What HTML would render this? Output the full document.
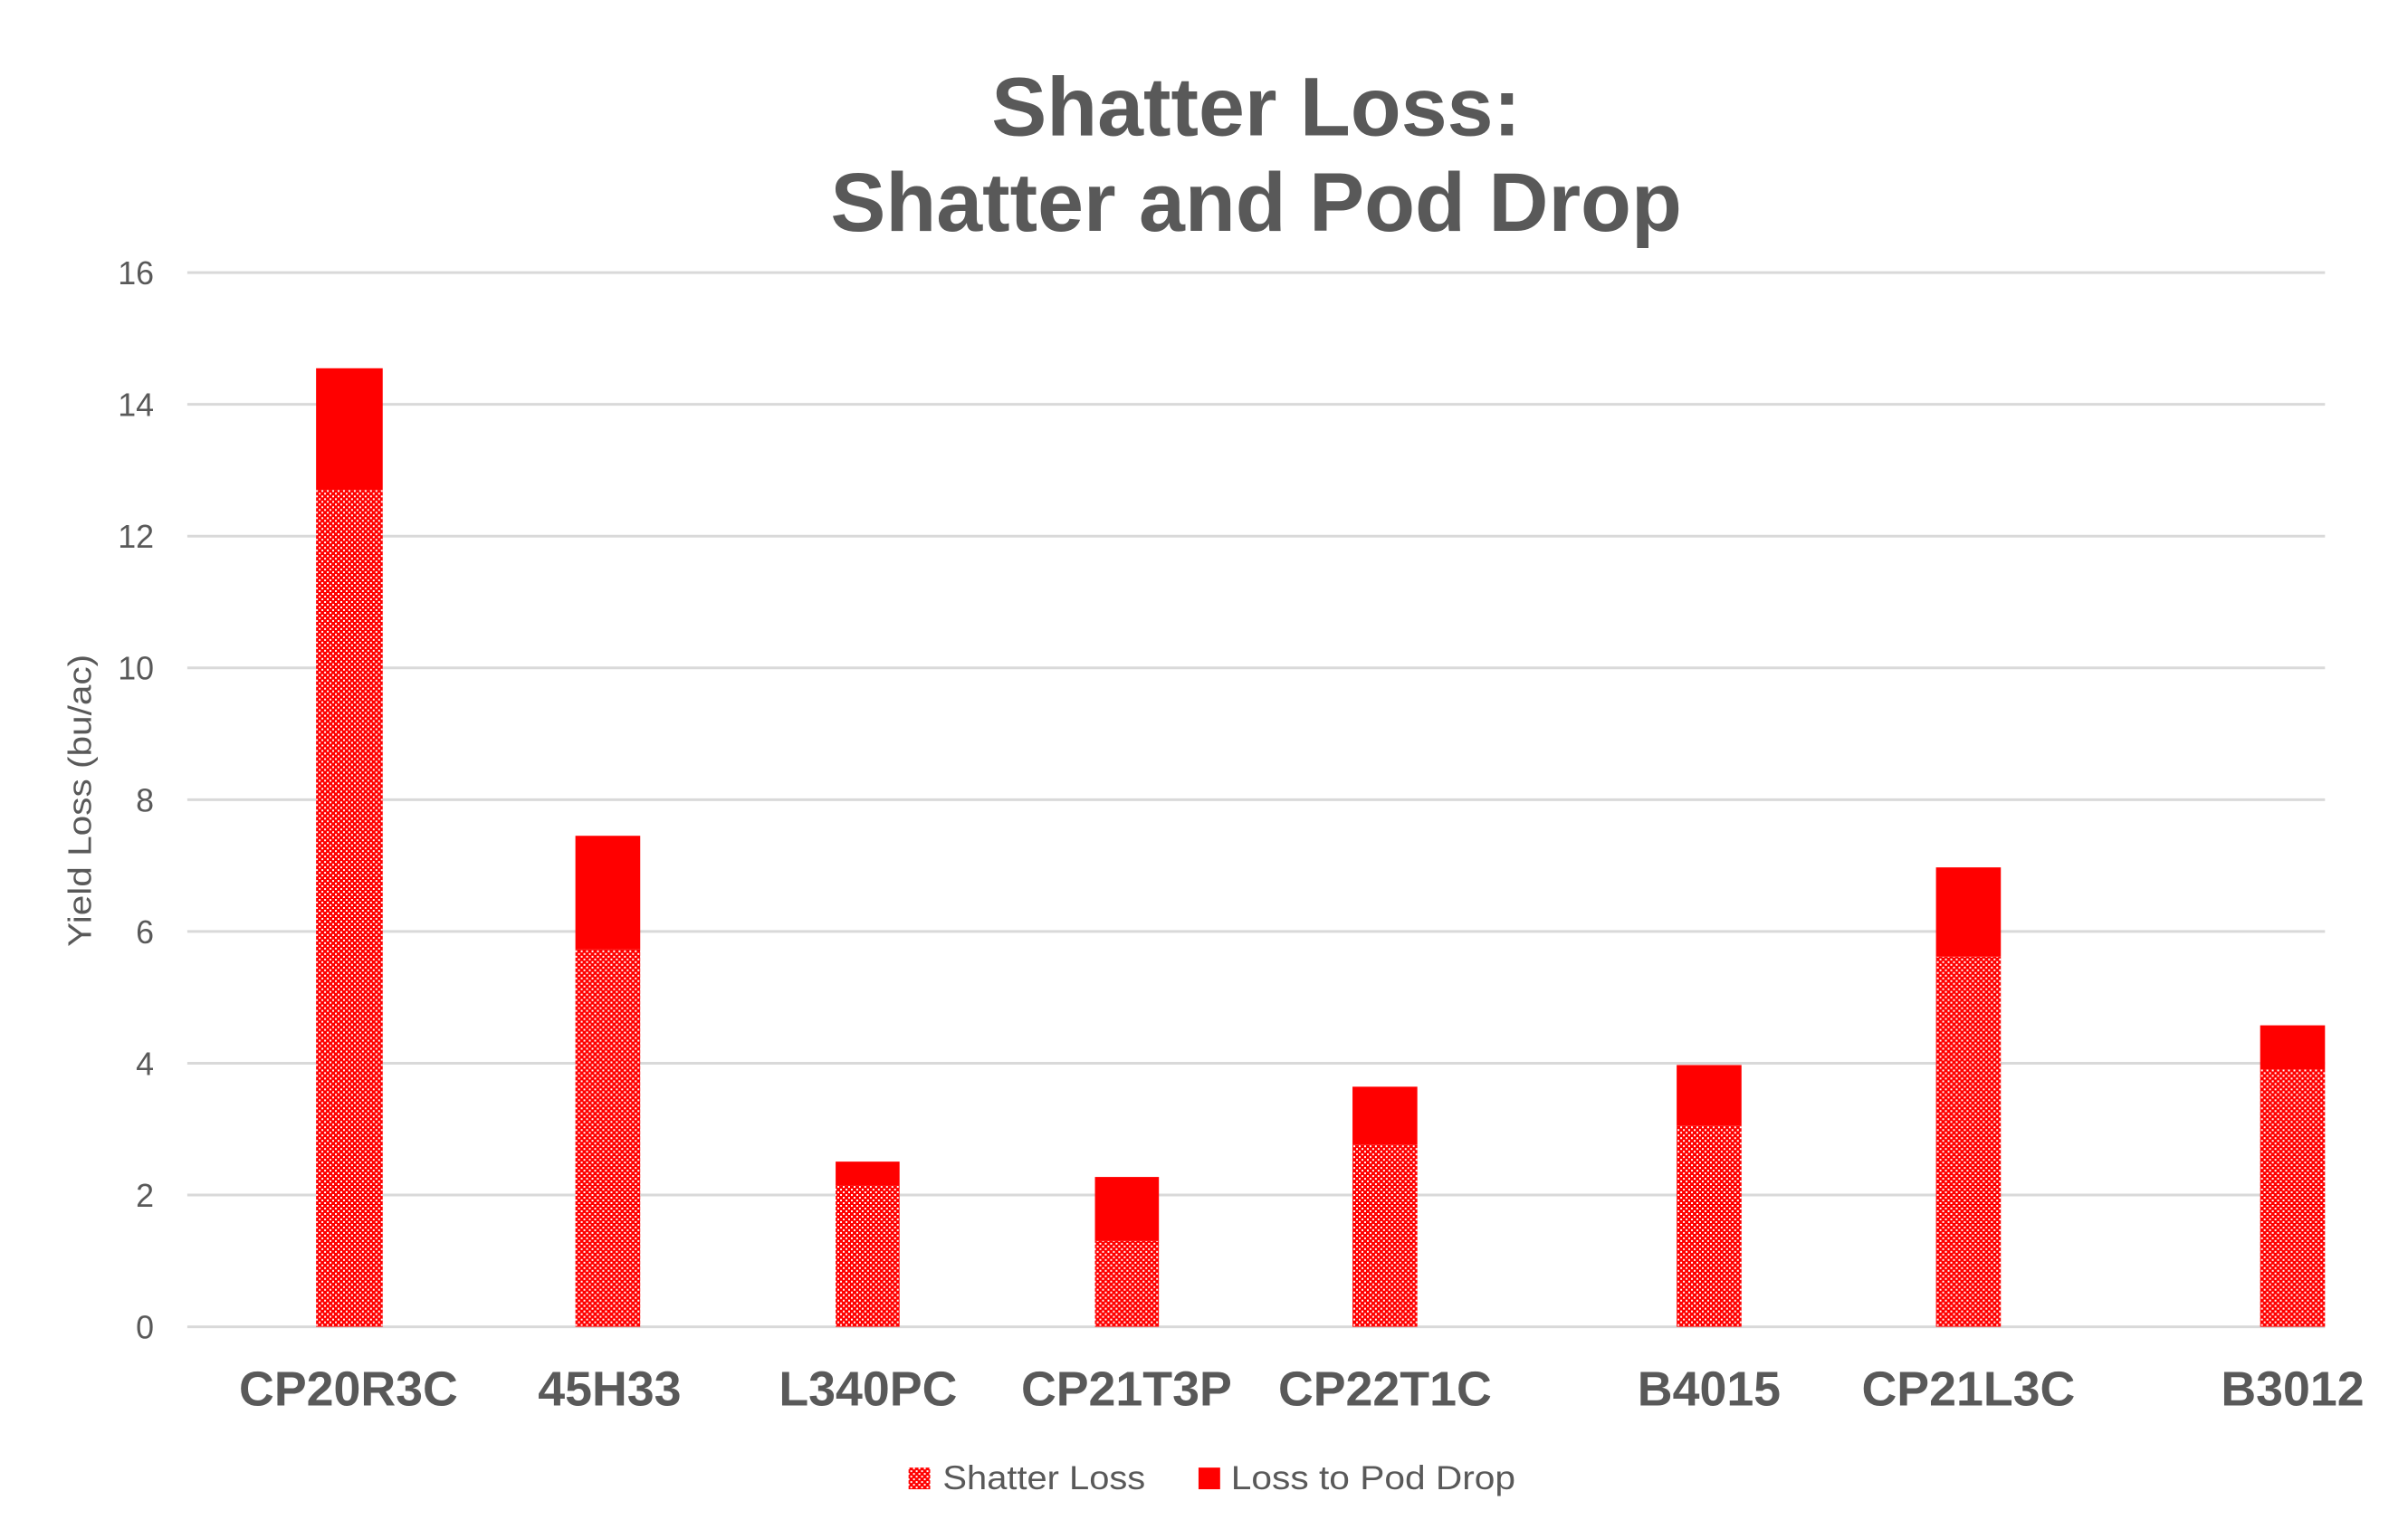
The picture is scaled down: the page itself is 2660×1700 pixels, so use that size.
<!DOCTYPE html>
<html><head><meta charset="utf-8"><style>html,body{margin:0;padding:0;background:#fff}</style></head><body>
<svg width="2660" height="1700" xmlns="http://www.w3.org/2000/svg" style="display:block">
<defs>
<pattern id="p" width="6" height="6" patternUnits="userSpaceOnUse">
<rect width="6" height="6" fill="#ff0000"/>
<rect x="0" y="0" width="2" height="2" fill="#fff"/>
<rect x="3" y="3" width="2" height="2" fill="#fff"/>
</pattern>
</defs>
<g font-family="Liberation Sans, sans-serif" transform="matrix(0.9947 0 0 0.997 0 0)">
<text x="1395" y="150" font-size="92" font-weight="bold" fill="#595959" text-anchor="middle">Shatter Loss:</text>
<text x="1395" y="256" font-size="92" font-weight="bold" fill="#595959" text-anchor="middle">Shatter and Pod Drop</text>
<g stroke="#d9d9d9" stroke-width="3">
<line x1="208" x2="2582" y1="302" y2="302"/>
<line x1="208" x2="2582" y1="448" y2="448"/>
<line x1="208" x2="2582" y1="594" y2="594"/>
<line x1="208" x2="2582" y1="740" y2="740"/>
<line x1="208" x2="2582" y1="886" y2="886"/>
<line x1="208" x2="2582" y1="1032" y2="1032"/>
<line x1="208" x2="2582" y1="1178" y2="1178"/>
<line x1="208" x2="2582" y1="1324" y2="1324"/>
<line x1="208" x2="2582" y1="1470" y2="1470"/>
</g>
<g font-size="36" fill="#595959" text-anchor="end">
<text x="171" y="315">16</text><text x="171" y="461">14</text><text x="171" y="607">12</text>
<text x="171" y="753">10</text><text x="171" y="899">8</text><text x="171" y="1045">6</text>
<text x="171" y="1191">4</text><text x="171" y="1337">2</text><text x="171" y="1483">0</text>
</g>
<text transform="translate(101,887) rotate(-90)" font-size="36" fill="#595959" text-anchor="middle" textLength="324" lengthAdjust="spacingAndGlyphs">Yield Loss (bu/ac)</text>
<g>
<rect x="351" y="543" width="74" height="927" fill="url(#p)"/><rect x="351" y="408" width="74" height="135" fill="#ff0000"/>
<rect x="639" y="1052" width="72" height="418" fill="url(#p)"/><rect x="639" y="926" width="72" height="126" fill="#ff0000"/>
<rect x="928" y="1313" width="71" height="157" fill="url(#p)"/><rect x="928" y="1287" width="71" height="26" fill="#ff0000"/>
<rect x="1216" y="1375" width="71" height="95" fill="url(#p)"/><rect x="1216" y="1304" width="71" height="71" fill="#ff0000"/>
<rect x="1502" y="1268" width="72" height="202" fill="url(#p)"/><rect x="1502" y="1204" width="72" height="64" fill="#ff0000"/>
<rect x="1862" y="1247" width="72" height="223" fill="url(#p)"/><rect x="1862" y="1180" width="72" height="67" fill="#ff0000"/>
<rect x="2150" y="1060" width="72" height="410" fill="url(#p)"/><rect x="2150" y="961" width="72" height="99" fill="#ff0000"/>
<rect x="2510" y="1185" width="72" height="285" fill="url(#p)"/><rect x="2510" y="1136" width="72" height="49" fill="#ff0000"/>
</g>
<g font-size="54" font-weight="bold" fill="#595959" text-anchor="middle">
<text x="387" y="1557">CP20R3C</text><text x="677" y="1557">45H33</text><text x="964" y="1557">L340PC</text>
<text x="1251" y="1557">CP21T3P</text><text x="1538" y="1557">CP22T1C</text><text x="1898" y="1557">B4015</text>
<text x="2186" y="1557">CP21L3C</text><text x="2546" y="1557">B3012</text>
</g>
<rect x="1009" y="1626" width="24" height="24" fill="url(#p)"/>
<text x="1047" y="1650" font-size="37" fill="#595959" textLength="225" lengthAdjust="spacingAndGlyphs">Shatter Loss</text>
<rect x="1331" y="1626" width="24" height="24" fill="#ff0000"/>
<text x="1367" y="1650" font-size="37" fill="#595959" textLength="316" lengthAdjust="spacingAndGlyphs">Loss to Pod Drop</text>
</g>
</svg>
</body></html>
